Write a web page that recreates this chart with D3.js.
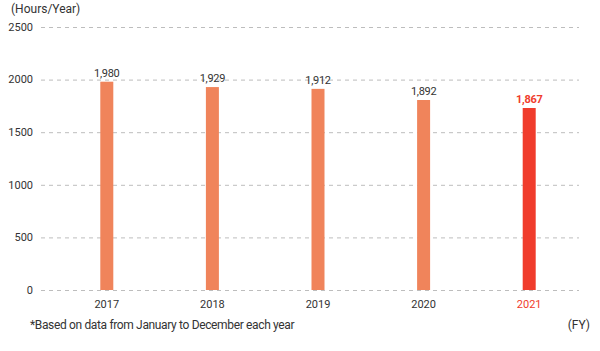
<!DOCTYPE html>
<html>
<head>
<meta charset="utf-8">
<script src="https://cdn.jsdelivr.net/npm/d3@7"></script>
<style>
  body { margin: 0; background: #fff; }
  text { font-family: Roboto, "Liberation Sans", sans-serif; fill: #333; }
</style>
</head>
<body>
<div id="chart"></div>
<script>
var years = ["2017", "2018", "2019", "2020", "2021"];
// bar heights as drawn in the picture
var hours = [1980, 1929, 1912, 1806, 1730];
// printed value labels
var valueLabels = ["1,980", "1,929", "1,912", "1,892", "1,867"];
var yTicks = [0, 500, 1000, 1500, 2000, 2500];

function init() {
    var w = 600;
    var h = 351;

    var svg = d3.select("#chart")
                .append("svg")
                .attr("width", w)
                .attr("height", h);

    var x = d3.scalePoint()
              .domain(years)
              .range([54, 582])
              .padding(0.5);

    var y = d3.scaleLinear()
              .domain([0, 2500])
              .range([290, 27]);

    var barW = 13;
    var highlight = "2021";

    // grid
    svg.selectAll("line.grid")
       .data(yTicks)
       .enter()
       .append("line")
       .attr("class", "grid")
       .attr("x1", 41)
       .attr("x2", 579)
       .attr("y1", function(d) { return y(d) + 0.5; })
       .attr("y2", function(d) { return y(d) + 0.5; })
       .attr("stroke", "#bdbdbd")
       .attr("stroke-width", 1)
       .attr("stroke-dasharray", "4,4");

    svg.selectAll("text.ytick")
       .data(yTicks)
       .enter()
       .append("text")
       .attr("class", "ytick")
       .attr("x", 33)
       .attr("y", function(d) { return y(d); })
       .attr("dy", "0.35em")
       .attr("text-anchor", "end")
       .attr("font-size", "11px")
       .text(function(d) { return d; });

    svg.append("text")
       .attr("x", 11)
       .attr("y", 13)
       .attr("font-size", "12px")
       .text("(Hours/Year)");

    // bars
    svg.selectAll("rect.bar")
       .data(hours)
       .enter()
       .append("rect")
       .attr("class", "bar")
       .attr("x", function(d, i) { return x(years[i]) - barW / 2; })
       .attr("y", function(d) { return y(d); })
       .attr("width", barW)
       .attr("height", function(d) { return y(0) - y(d); })
       .attr("fill", function(d, i) { return years[i] == highlight ? "#f03c2c" : "#f0845b"; });

    svg.selectAll("text.val")
       .data(hours)
       .enter()
       .append("text")
       .attr("class", "val")
       .attr("x", function(d, i) { return x(years[i]); })
       .attr("y", function(d) { return y(d) - 5; })
       .attr("text-anchor", "middle")
       .attr("font-size", "11px")
       .attr("font-weight", function(d, i) { return years[i] == highlight ? "bold" : "normal"; })
       .style("fill", function(d, i) { return years[i] == highlight ? "#f03c2c" : "#333"; })
       .style("letter-spacing", "-0.3px")
       .text(function(d, i) { return valueLabels[i]; });

    svg.selectAll("text.year")
       .data(years)
       .enter()
       .append("text")
       .attr("class", "year")
       .attr("x", function(d) { return x(d); })
       .attr("y", 304)
       .attr("dy", "0.35em")
       .attr("text-anchor", "middle")
       .attr("font-size", "11px")
       .style("fill", function(d) { return d == highlight ? "#f03c2c" : "#333"; })
       .text(function(d) { return d; });

    svg.append("text")
       .attr("x", 30)
       .attr("y", 329)
       .attr("font-size", "12px")
       .style("letter-spacing", "-0.35px")
       .text("*Based on data from January to December each year");

    svg.append("text")
       .attr("x", 590)
       .attr("y", 329)
       .attr("text-anchor", "end")
       .attr("font-size", "12px")
       .text("(FY)");
}

window.onload = init;
</script>
</body>
</html>
